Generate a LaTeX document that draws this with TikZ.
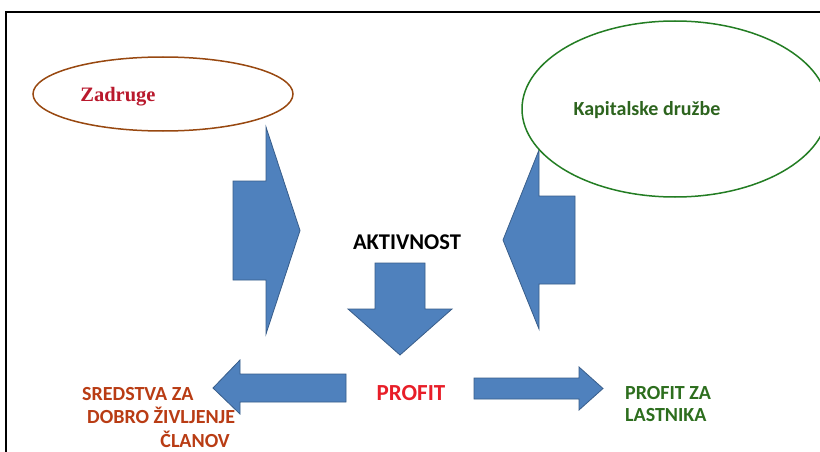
\documentclass[tikz,border=0pt]{standalone}
\usepackage{fontspec}
\setmainfont{Carlito}[BoldFont={Carlito Bold}]
\newfontfamily\timesf{Liberation Serif}[BoldFont={Liberation Serif Bold}]
\usetikzlibrary{shapes.geometric}
\definecolor{arrowfill}{RGB}{79,129,189}
\definecolor{arrowline}{RGB}{56,93,138}
\definecolor{zadline}{RGB}{152,72,16}
\definecolor{zadtext}{RGB}{185,25,45}
\definecolor{kapline}{RGB}{35,125,35}
\definecolor{kaptext}{RGB}{45,100,30}
\definecolor{profred}{RGB}{232,30,40}
\definecolor{lastgreen}{RGB}{45,110,30}
\definecolor{sredorange}{RGB}{185,60,20}
\begin{document}
\begin{tikzpicture}[x=1pt,y=-1pt,
  blockarrow/.style={fill=arrowfill,draw=arrowline,line width=0.8pt,line join=miter},
  lbl/.style={font=\bfseries\fontsize{20}{22}\selectfont,inner sep=0pt},
  oval/.style={ellipse,draw,line width=1.5pt,inner sep=0pt,fill=white}]
\useasboundingbox (0,0) rectangle (820,452);
\fill[white] (0,0) rectangle (820,452);
\draw[line width=2.2pt] (6,453) -- (6,12) -- (821,12);

% side arrows
\path[blockarrow] (233,181) -- (266,181) -- (266,127) -- (300,230.5) -- (266,334) -- (266,280) -- (233,280) -- cycle;
\path[blockarrow] (575,196) -- (539,196) -- (539,150) -- (503,240) -- (539,329) -- (539,284) -- (575,284) -- cycle;

% ellipses
\node[oval,draw=zadline,minimum width=260pt,minimum height=74pt] (zad) at (163,94) {};
\node[lbl,anchor=base,text=zadtext,font=\timesf\bfseries\fontsize{20.5}{22}\selectfont] (zadt) at (118,102) {Zadruge};
\node[oval,draw=kapline,minimum width=306pt,minimum height=176pt] (kap) at (675,109) {};
\node[lbl,anchor=base,text=kaptext] (kapt) at (647,116) {Kapitalske družbe};

% activity
\node[lbl,anchor=base,font=\bfseries\fontsize{22.5}{24}\selectfont] (akt) at (407,249) {AKTIVNOST};
\path[blockarrow] (375,263) -- (425,263) -- (425,309) -- (452,309) -- (400,355) -- (348,309) -- (375,309) -- cycle;

% profit
\node[lbl,anchor=base,text=profred,font=\bfseries\fontsize{23}{25}\selectfont] (prof) at (411,400) {PROFIT};
\path[blockarrow] (346,374) -- (240,374) -- (240,360) -- (213,388) -- (240,414) -- (240,402) -- (346,402) -- cycle;
\path[blockarrow] (474,378) -- (579,378) -- (579,367) -- (603,388.5) -- (579,410) -- (579,399) -- (474,399) -- cycle;

% outcomes
\node[lbl,anchor=base west,text=lastgreen] (last1) at (625,399.5) {PROFIT ZA};
\node[lbl,anchor=base west,text=lastgreen] (last2) at (625,421.5) {LASTNIKA};
\node[lbl,anchor=base west,text=sredorange] (sred1) at (82,400) {SREDSTVA ZA};
\node[lbl,anchor=base west,text=sredorange] (sred2) at (87,423.5) {DOBRO ŽIVLJENJE};
\node[lbl,anchor=base east,text=sredorange] (sred3) at (230,447.5) {ČLANOV};
\end{tikzpicture}
\end{document}
